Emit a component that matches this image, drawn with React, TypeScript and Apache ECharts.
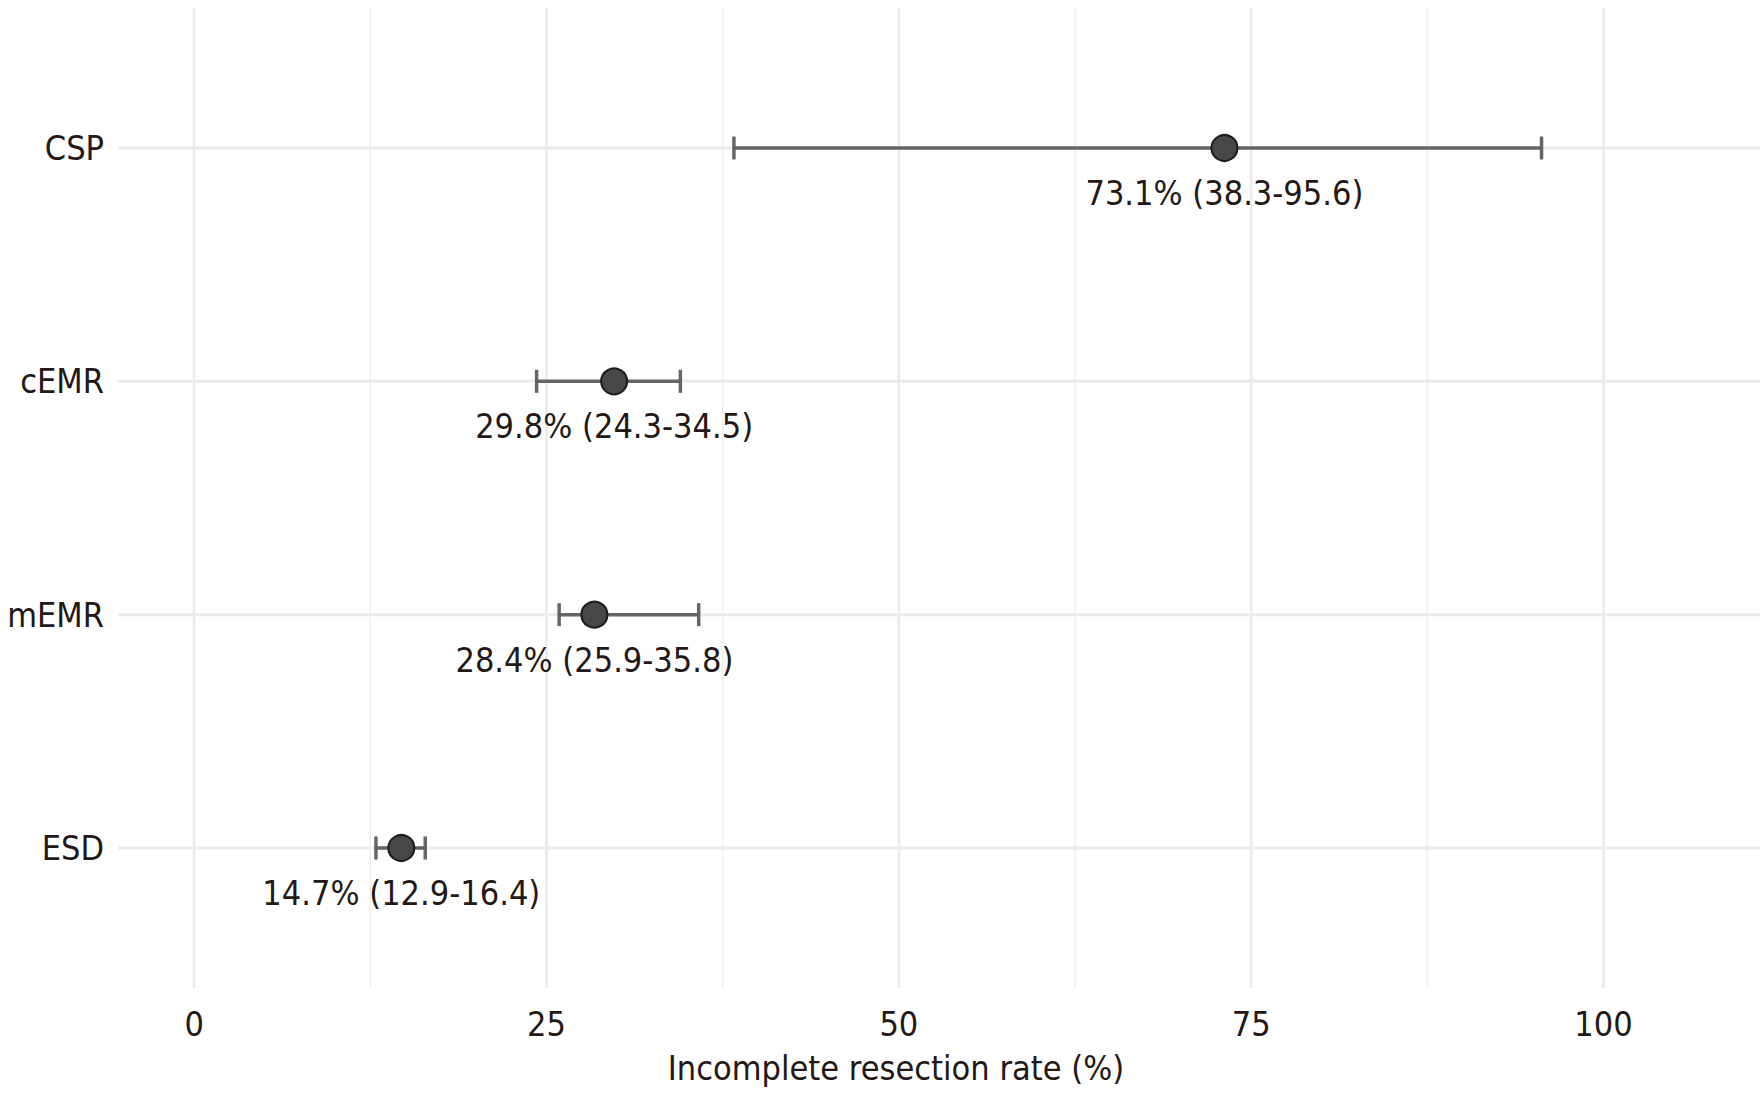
import React, { useEffect, useRef } from "react";
import * as echarts from "echarts";

const categories = ["ESD", "mEMR", "cEMR", "CSP"];
const estimates = [14.7, 28.4, 29.8, 73.1];
const lowerCI = [12.9, 25.9, 24.3, 38.3];
const upperCI = [16.4, 35.8, 34.5, 95.6];
const xMajorTicks = [0, 25, 50, 75, 100];
const xMinorTicks = [12.5, 37.5, 62.5, 87.5];
const yTicks = [1, 2, 3, 4];
const xTitle = "Incomplete resection rate (%)";

const X_MIN = -5.4;
const X_MAX = 111.1;
const Y_MIN = 0.4;
const Y_MAX = 4.6;

const FONT = "'DejaVu Sans Condensed', 'DejaVu Sans', sans-serif";
const FS = 34;
const TEXT = "#231815";
const GRID = "#ebebeb";

export default function App() {
  const ref = useRef<HTMLDivElement>(null);

  useEffect(() => {
    document.body.style.margin = "0";
    if (!ref.current) return;
    const chart = echarts.init(ref.current, undefined, { renderer: "svg" });

    const vLine = (width: number, color: string) => (params: any, api: any) => {
      const v = api.value(0);
      const p1 = api.coord([v, Y_MIN]);
      const p2 = api.coord([v, Y_MAX]);
      return {
        type: "line",
        shape: { x1: p1[0], y1: p1[1], x2: p2[0], y2: p2[1] },
        style: { stroke: color, lineWidth: width },
        silent: true,
      };
    };

    const hLine = (params: any, api: any) => {
      const v = api.value(1);
      const p1 = api.coord([X_MIN, v]);
      const p2 = api.coord([X_MAX, v]);
      return {
        type: "line",
        shape: { x1: p1[0], y1: p1[1], x2: p2[0], y2: p2[1] },
        style: { stroke: GRID, lineWidth: 3 },
        silent: true,
      };
    };

    const errorBar = (params: any, api: any) => {
      const y = api.value(0);
      const lo = api.coord([api.value(1), y]);
      const hi = api.coord([api.value(2), y]);
      const cap = 11.5;
      const style = { stroke: "#5e5e5e", lineWidth: 3.5, opacity: 0.95 };
      return {
        type: "group",
        children: [
          { type: "line", shape: { x1: lo[0], y1: lo[1], x2: hi[0], y2: hi[1] }, style },
          { type: "line", shape: { x1: lo[0], y1: lo[1] - cap, x2: lo[0], y2: lo[1] + cap }, style },
          { type: "line", shape: { x1: hi[0], y1: hi[1] - cap, x2: hi[0], y2: hi[1] + cap }, style },
        ],
      };
    };

    chart.setOption({
      animation: false,
      backgroundColor: "#ffffff",
      grid: { left: 118, right: 0, top: 8, bottom: 110, containLabel: false },
      xAxis: {
        type: "value",
        min: X_MIN,
        max: X_MAX,
        axisLine: { show: false },
        axisTick: { show: false },
        splitLine: { show: false },
        axisLabel: {
          customValues: xMajorTicks,
          fontSize: FS,
          color: TEXT,
          fontFamily: FONT,
          margin: 19,
          formatter: (v: number) => String(v),
        },
      },
      yAxis: {
        type: "value",
        min: Y_MIN,
        max: Y_MAX,
        axisLine: { show: false },
        axisTick: { show: false },
        splitLine: { show: false },
        axisLabel: {
          customValues: yTicks,
          fontSize: FS,
          color: TEXT,
          fontFamily: FONT,
          margin: 14,
          formatter: (v: number) => categories[Math.round(v) - 1] ?? "",
        },
      },
      graphic: [
        {
          type: "text",
          x: 896,
          y: 1068,
          style: {
            text: xTitle,
            fontSize: FS,
            fontFamily: FONT,
            fill: TEXT,
            align: "center",
            verticalAlign: "middle",
          },
        },
      ],
      series: [
        {
          type: "custom",
          z: 0,
          clip: false,
          renderItem: vLine(1.4, "#eeeeee"),
          data: xMinorTicks.map((v) => [v, 0]),
        },
        {
          type: "custom",
          z: 1,
          clip: false,
          renderItem: vLine(2.6, GRID),
          data: xMajorTicks.map((v) => [v, 0]),
        },
        {
          type: "custom",
          z: 1,
          clip: false,
          renderItem: hLine,
          data: yTicks.map((v) => [0, v]),
        },
        {
          type: "custom",
          z: 3,
          renderItem: errorBar,
          encode: { x: [1, 2], y: 0 },
          data: categories.map((_, i) => [i + 1, lowerCI[i], upperCI[i]]),
        },
        {
          type: "scatter",
          z: 4,
          symbol: "circle",
          symbolSize: 26,
          itemStyle: { color: "#474747", borderColor: "#1c1c1c", borderWidth: 2, opacity: 1 },
          data: categories.map((_, i) => [estimates[i], i + 1]),
          label: {
            show: true,
            position: "inside",
            offset: [0, 45],
            fontSize: FS,
            fontFamily: FONT,
            color: TEXT,
            formatter: (p: any) => {
              const i = p.dataIndex;
              return `${estimates[i].toFixed(1)}% (${lowerCI[i].toFixed(1)}-${upperCI[i].toFixed(1)})`;
            },
          },
        },
      ],
    });

    return () => chart.dispose();
  }, []);

  return (
    <div
      ref={ref}
      style={{ position: "absolute", left: 0, top: 0, width: 1760, height: 1098 }}
    />
  );
}
